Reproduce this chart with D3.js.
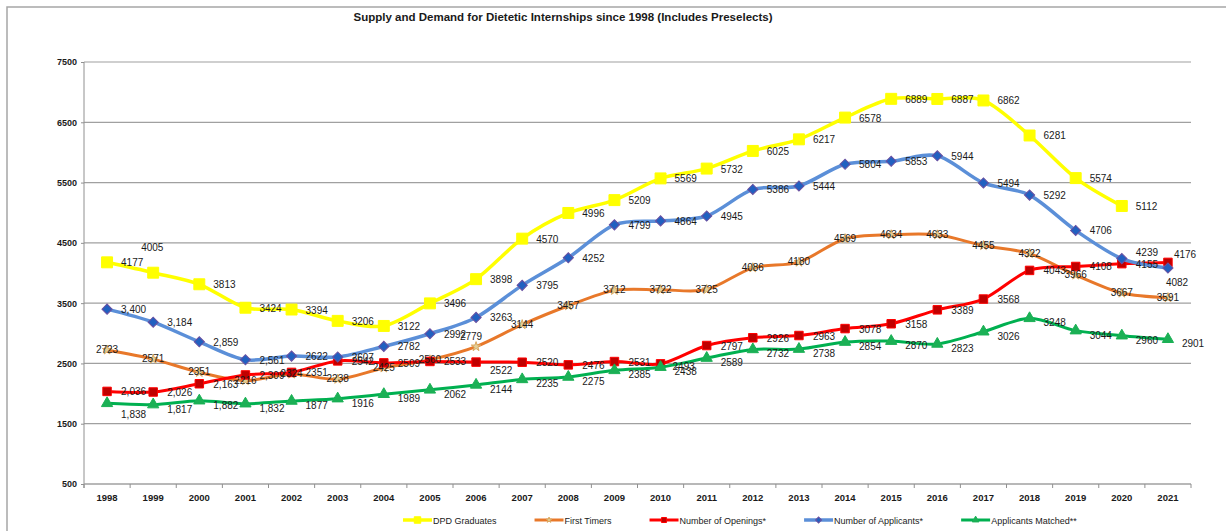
<!DOCTYPE html>
<html>
<head>
<meta charset="utf-8">
<script src="https://cdn.jsdelivr.net/npm/d3@7"></script>
<style>
  body { margin: 0; background: #fff; }
  svg { display: block; font-family: "Liberation Sans", Arial, sans-serif; }
</style>
</head>
<body>
<div id="chart"></div>
<script>
// данные графика
const years = [1998, 1999, 2000, 2001, 2002, 2003, 2004, 2005, 2006, 2007, 2008, 2009,
               2010, 2011, 2012, 2013, 2014, 2015, 2016, 2017, 2018, 2019, 2020, 2021];

const dpdGraduates = [4177, 4005, 3813, 3424, 3394, 3206, 3122, 3496, 3898, 4570, 4996, 5209,
                      5569, 5732, 6025, 6217, 6578, 6889, 6887, 6862, 6281, 5574, 5112, null];
const firstTimers = [2723, 2571, 2351, 2216, 2324, 2238, 2425, 2560, 2779, 3144, 3457, 3712,
                     3722, 3725, 4086, 4180, 4569, 4634, 4633, 4455, 4322, 3966, 3667, 3591];
const openings = [2036, 2026, 2163, 2309, 2351, 2542, 2509, 2533, 2522, 2520, 2476, 2531,
                  2493, 2797, 2926, 2963, 3078, 3158, 3389, 3568, 4043, 4108, 4155, 4176];
const applicants = [3400, 3184, 2859, 2561, 2622, 2607, 2782, 2992, 3263, 3795, 4252, 4799,
                    4864, 4945, 5386, 5444, 5804, 5853, 5944, 5494, 5292, 4706, 4239, 4082];
const matched = [1838, 1817, 1882, 1832, 1877, 1916, 1989, 2062, 2144, 2235, 2275, 2385,
                 2438, 2589, 2732, 2738, 2854, 2870, 2823, 3026, 3248, 3044, 2960, 2901];

const yTicks = [500, 1500, 2500, 3500, 4500, 5500, 6500, 7500];

const width = 1226;
const height = 531;
const plotLeft = 84, plotRight = 1191, plotTop = 62, plotBottom = 484;

const series = [
    { name: "DPD Graduates", values: dpdGraduates, line: "#ffff00", lw: 3.5,
      symbol: d3.symbolSquare, size: 120, fill: "#ffff00", stroke: "#ffff00", label: "right", comma: false },
    { name: "First Timers", values: firstTimers, line: "#e8782a", lw: 3,
      symbol: d3.symbolStar, size: 28, fill: "#e3cf98", stroke: "#d9a860", label: "center", comma: false },
    { name: "Number of Openings*", values: openings, line: "#ff0000", lw: 3,
      symbol: d3.symbolSquare, size: 72, fill: "#c00000", stroke: "#ff0000", label: "right", comma: true },
    { name: "Number of Applicants*", values: applicants, line: "#5b8fd8", lw: 3.5,
      symbol: d3.symbolSquare, size: 52, rotate: 45, fill: "#2160c0", stroke: "#6b50a0", label: "right", comma: true },
    { name: "Applicants Matched**", values: matched, line: "#00b050", lw: 3,
      symbol: d3.symbolTriangle, size: 55, fill: "#1bb055", stroke: "#1bb055", label: "right", comma: true }
];

// ручные сдвиги подписей (как в исходнике)
const labelNudge = {
    "DPD Graduates-1999": [-26, -26],
    "Number of Applicants*-2020": [0, -7],
    "Number of Applicants*-2021": [-16, 14],
    "Number of Openings*-2021": [-8, -8],
    "Number of Openings*-2010": [-2, 2],
    "Applicants Matched**-1998": [0, 7],
    "First Timers-2006": [-5, -10],
    "Number of Openings*-2006": [0, 8]
};

const svg = d3.select("#chart")
    .append("svg")
    .attr("width", width)
    .attr("height", height);

// рамка
svg.append("rect")
    .attr("x", 7).attr("y", 7)
    .attr("width", width + 20).attr("height", height + 20)
    .attr("fill", "none")
    .attr("stroke", "#a6a6a6")
    .attr("stroke-width", 1.5);

svg.append("text")
    .attr("x", 563).attr("y", 21)
    .attr("text-anchor", "middle")
    .attr("textLength", 419)
    .attr("lengthAdjust", "spacingAndGlyphs")
    .style("font-size", "11px")
    .style("font-weight", "bold")
    .attr("fill", "#1a1a1a")
    .text("Supply and Demand for Dietetic Internships since 1998 (Includes Preselects)");

const x = d3.scalePoint().domain(years).range([plotLeft, plotRight]).padding(0.5);
const y = d3.scaleLinear().domain([500, 7500]).range([plotBottom, plotTop]);

// сетка
svg.selectAll(".grid")
    .data(yTicks.slice(1))
    .enter()
    .append("line")
    .attr("x1", plotLeft).attr("x2", plotRight)
    .attr("y1", d => y(d)).attr("y2", d => y(d))
    .attr("stroke", "#a0a0a0")
    .attr("stroke-width", 1.2);

// ось Y
const yAxis = svg.append("g")
    .attr("transform", `translate(${plotLeft},0)`)
    .call(d3.axisLeft(y).tickValues(yTicks).tickSize(3).tickPadding(4).tickFormat(d3.format("d")));
yAxis.select(".domain").attr("stroke", "#909090").attr("d", `M0,${plotTop}V${plotBottom + 4}`);
yAxis.selectAll(".tick line").attr("stroke", "#909090");
yAxis.selectAll("text")
    .style("font-size", "9px").style("font-weight", "bold").attr("fill", "#1a1a1a");

// ось X
const step = x.step();
const xAxis = svg.append("g")
    .attr("transform", `translate(0,${plotBottom})`);
xAxis.append("line")
    .attr("x1", plotLeft).attr("x2", plotRight)
    .attr("stroke", "#a0a0a0").attr("stroke-width", 1.5);
xAxis.selectAll(".xtick")
    .data(d3.range(years.length + 1))
    .enter()
    .append("line")
    .attr("x1", i => plotLeft + i * step).attr("x2", i => plotLeft + i * step)
    .attr("y1", 0).attr("y2", 4)
    .attr("stroke", "#909090");
xAxis.selectAll(".xlabel")
    .data(years)
    .enter()
    .append("text")
    .attr("x", d => x(d))
    .attr("y", 17)
    .attr("text-anchor", "middle")
    .style("font-size", "9.5px").style("font-weight", "bold")
    .attr("fill", "#1a1a1a")
    .text(d => d);

const line = d3.line()
    .defined(d => d.v != null)
    .x(d => x(d.year))
    .y(d => y(d.v))
    .curve(d3.curveCardinal.tension(0.1));

series.forEach(s => {
    const pts = years.map((yr, i) => ({ year: yr, v: s.values[i] }));
    const g = svg.append("g");

    g.append("path")
        .attr("d", line(pts))
        .attr("fill", "none")
        .attr("stroke", s.line)
        .attr("stroke-width", s.lw)
        .attr("stroke-linejoin", "round");

    const valid = pts.filter(d => d.v != null);
    g.selectAll(".m")
        .data(valid)
        .enter()
        .append("path")
        .attr("transform", d => `translate(${x(d.year)},${y(d.v)}) rotate(${s.rotate || 0})`)
        .attr("d", d3.symbol().type(s.symbol).size(s.size))
        .attr("fill", s.fill)
        .attr("stroke", s.stroke)
        .attr("stroke-width", 1);
});

// подписи значений поверх линий
series.forEach(s => {
    const fmtComma = d3.format(",");
    years.forEach((yr, i) => {
        const v = s.values[i];
        if (v == null) return;
        const nudge = labelNudge[s.name + "-" + yr] || [0, 0];
        const txt = (s.comma && yr <= 2001) ? fmtComma(v) : String(v);
        let dx, dy, anchor;
        if (s.label === "center") {
            dx = 0; dy = 3; anchor = "middle";
        } else {
            dx = 14; dy = 4; anchor = "start";
            if (s.name === "Applicants Matched**") dy = 8;
        }
        svg.append("text")
            .attr("x", x(yr) + dx + nudge[0])
            .attr("y", y(v) + dy + nudge[1])
            .attr("text-anchor", anchor)
            .style("font-size", "10px")
            .attr("fill", "#1a1a1a")
            .text(txt);
    });
});

// легенда
const legend = svg.append("g").attr("transform", "translate(403,520)");
let lx = 0;
series.forEach(s => {
    const item = legend.append("g").attr("transform", `translate(${lx},0)`);
    item.append("line")
        .attr("x1", 0).attr("x2", 29)
        .attr("stroke", s.line).attr("stroke-width", s.lw);
    item.append("path")
        .attr("transform", `translate(14.5,0) rotate(${s.rotate || 0})`)
        .attr("d", d3.symbol().type(s.symbol).size(s.size * 0.35))
        .attr("fill", s.fill)
        .attr("stroke", s.stroke);
    const t = item.append("text")
        .attr("x", 30).attr("y", 3.5)
        .style("font-size", "9px")
        .attr("fill", "#1a1a1a")
        .text(s.name);
    lx += 30 + t.node().getComputedTextLength() + 38;
});
</script>
</body>
</html>
